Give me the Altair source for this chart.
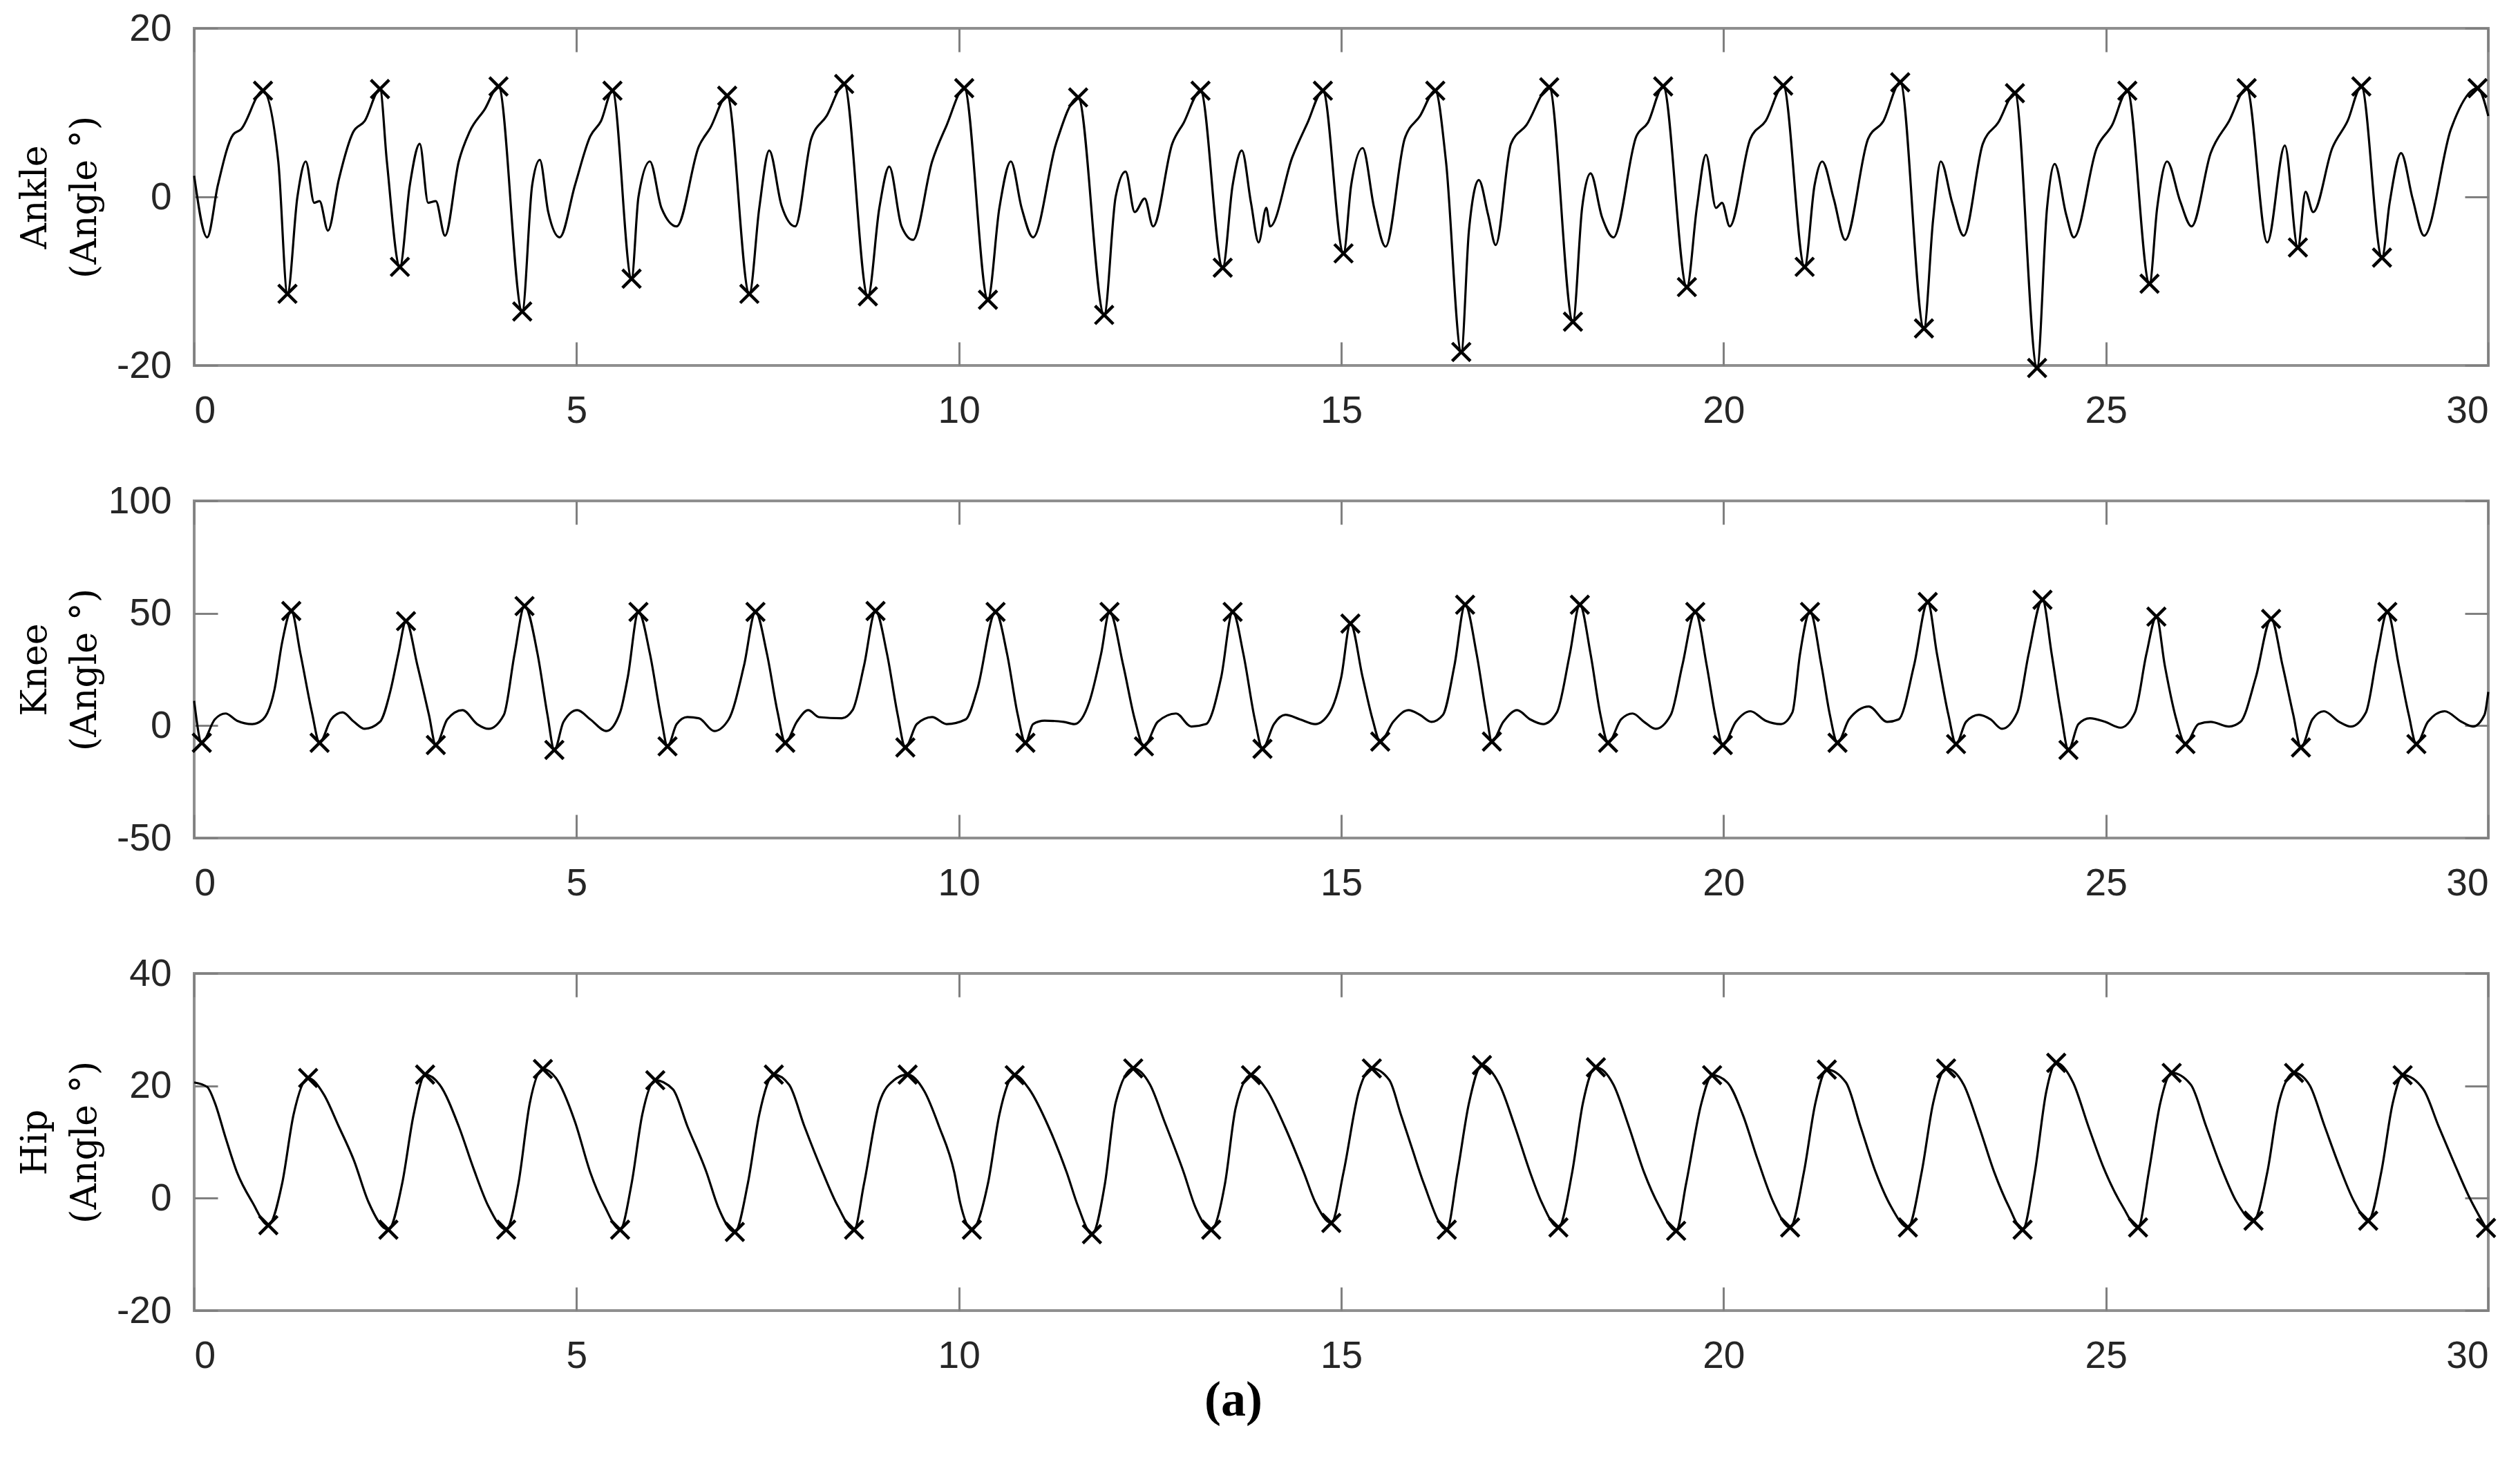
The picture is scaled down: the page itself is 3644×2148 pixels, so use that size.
import altair as alt
import pandas as pd

# ---------------- data ----------------
x_ticks = [0, 5, 10, 15, 20, 25, 30]

ankle_t = [0.00, 0.17, 0.31, 0.51, 0.61, 0.90, 1.10, 1.22, 1.35, 1.46, 1.57, 1.64, 1.75, 1.89, 2.08, 2.23, 2.43, 2.52, 2.69,
           2.82, 2.95, 3.06, 3.16, 3.28, 3.46, 3.60, 3.80, 3.98, 4.29, 4.42, 4.52, 4.63, 4.78, 4.98, 5.18, 5.32, 5.47,
           5.72, 5.81, 5.96, 6.11, 6.31, 6.60, 6.75, 6.97, 7.26, 7.39, 7.52, 7.68, 7.86, 8.07, 8.27, 8.50, 8.81, 8.96,
           9.09, 9.25, 9.40, 9.65, 9.84, 10.07, 10.38, 10.53, 10.68, 10.82, 10.97, 11.27, 11.56, 11.90, 12.05, 12.18,
           12.30, 12.43, 12.54, 12.79, 12.94, 13.16, 13.45, 13.58, 13.70, 13.82, 13.92, 14.02, 14.07, 14.36, 14.56,
           14.76, 15.03, 15.13, 15.28, 15.43, 15.58, 15.83, 16.03, 16.23, 16.37, 16.57, 16.67, 16.80, 16.92, 17.02,
           17.22, 17.42, 17.72, 18.03, 18.15, 18.26, 18.41, 18.56, 18.86, 19.01, 19.21, 19.52, 19.65, 19.77, 19.90,
           19.98, 20.08, 20.35, 20.55, 20.78, 21.06, 21.19, 21.29, 21.44, 21.59, 21.89, 22.09, 22.31, 22.62, 22.74,
           22.84, 22.99, 23.14, 23.39, 23.59, 23.81, 24.10, 24.23, 24.33, 24.48, 24.58, 24.88, 25.08, 25.28, 25.57,
           25.67, 25.80, 25.97, 26.12, 26.37, 26.61, 26.84, 27.11, 27.34, 27.51, 27.61, 27.71, 27.96, 28.16, 28.34,
           28.61, 28.71, 28.86, 29.01, 29.16, 29.51, 29.86, 30.00]
ankle_v = [2.5, -4.8, 1.4, 7.4, 8.0, 12.6, 4.2, -11.5, 0.0, 4.2, -0.7, -0.5, -4.0, 2.0, 7.7, 9.0, 12.8, 4.2, -8.3,
           1.4, 6.3, -0.7, -0.5, -4.6, 4.2, 7.7, 10.4, 13.1, -13.6, 1.4, 4.4, -1.8, -4.8, 1.4, 7.2, 9.0, 12.6,
           -9.7, 0.0, 4.2, -1.3, -3.5, 6.0, 8.2, 12.0, -11.5, -1.3, 5.5, -1.0, -3.5, 6.9, 9.6, 13.4, -11.8, -1.3,
           3.6, -3.5, -5.1, 4.2, 8.5, 12.9, -12.2, -1.3, 4.2, -1.3, -4.8, 6.3, 11.8, -14.0, 0.0, 3.0,
           -1.8, -0.2, -3.5, 6.3, 8.8, 12.6, -8.4, 1.4, 5.5, -0.7, -5.4, -1.3, -3.5, 4.7, 8.8,
           12.6, -6.7, 1.4, 5.8, -1.3, -5.9, 6.9, 9.6, 12.6, 4.2, -18.4, -4.0, 2.0, -2.1, -5.7,
           6.3, 8.5, 13.0, -14.8, -1.3, 2.8, -2.4, -4.8, 7.2, 8.8, 13.1, -10.7, -1.3, 5.0, -1.3,
           -0.7, -3.5, 6.9, 9.0, 13.2, -8.3, 1.4, 4.2, -0.2, -5.1, 6.9, 9.0, 13.6, -15.6, -2.7,
           4.2, -0.7, -4.6, 6.3, 8.8, 12.3, -20.3, -1.3, 3.9, -2.1, -4.8, 5.8, 8.5, 12.6, -10.3,
           -1.3, 4.2, -0.5, -3.5, 5.2, 9.0, 12.9, -5.4, 6.1, -6.0, 0.6, -1.8, 5.8, 9.0, 13.1,
           -7.2, -0.7, 5.2, -0.2, -4.6, 8.0, 12.9, 9.6]
ankle_mark_t = [0.90, 2.43, 3.98, 5.47, 6.97, 8.50, 10.07, 11.56, 13.16, 14.76, 16.23, 17.72, 19.21, 20.78, 22.31,
                23.81, 25.28, 26.84, 28.34, 29.86,
                1.22, 2.69, 4.29, 5.72, 7.26, 8.81, 10.38, 11.90, 13.45, 15.03, 16.57, 18.03, 19.52, 21.06, 22.62,
                24.10, 25.57, 27.51, 28.61]
ankle_mark_v = [12.6, 12.8, 13.1, 12.6, 12.0, 13.4, 12.9, 11.8, 12.6, 12.6, 12.6, 13.0, 13.1, 13.2, 13.6,
                12.3, 12.6, 12.9, 13.1, 12.9,
                -11.5, -8.3, -13.6, -9.7, -11.5, -11.8, -12.2, -14.0, -8.4, -6.7, -18.4, -14.8, -10.7, -8.3, -15.6,
                -20.3, -10.3, -6.0, -7.2]

knee_t = [0.00, 0.10, 0.27, 0.41, 0.56, 0.76, 0.90, 1.05, 1.15, 1.27, 1.39, 1.54, 1.64, 1.79, 1.94, 2.09, 2.23, 2.43,
          2.57, 2.67, 2.77, 2.92, 3.07, 3.16, 3.31, 3.51, 3.70, 3.85, 4.05, 4.19, 4.32, 4.49, 4.62, 4.71, 4.83, 5.01,
          5.18, 5.39, 5.57, 5.67, 5.81, 5.96, 6.11, 6.19, 6.31, 6.45, 6.60, 6.80, 6.99, 7.19, 7.34, 7.49, 7.63, 7.73,
          7.88, 8.03, 8.17, 8.47, 8.61, 8.76, 8.91, 9.06, 9.20, 9.30, 9.45, 9.65, 9.84, 10.09, 10.24, 10.48, 10.63,
          10.77, 10.87, 10.97, 11.12, 11.37, 11.51, 11.71, 11.86, 11.97, 12.15, 12.30, 12.42, 12.60, 12.84, 13.04,
          13.23, 13.43, 13.58, 13.72, 13.87, 13.97, 14.12, 14.27, 14.46, 14.66, 14.85, 15.00, 15.12, 15.28, 15.41,
          15.51, 15.68, 15.88, 16.03, 16.18, 16.33, 16.48, 16.62, 16.77, 16.90, 16.97, 17.12, 17.30, 17.47, 17.64,
          17.82, 17.99, 18.12, 18.26, 18.39, 18.49, 18.66, 18.81, 18.96, 19.11, 19.31, 19.46, 19.63, 19.78, 19.89,
          19.99, 20.16, 20.35, 20.55, 20.75, 20.90, 21.00, 21.13, 21.28, 21.39, 21.49, 21.64, 21.90, 22.14, 22.29,
          22.49, 22.67, 22.79, 22.94, 23.04, 23.17, 23.34, 23.49, 23.64, 23.84, 23.99, 24.17, 24.29, 24.41, 24.51,
          24.64, 24.79, 24.99, 25.19, 25.38, 25.53, 25.66, 25.77, 25.92, 26.04, 26.21, 26.37, 26.61, 26.76, 26.96,
          27.16, 27.31, 27.45, 27.55, 27.70, 27.85, 28.05, 28.20, 28.40, 28.55, 28.68, 28.83, 28.96, 29.06, 29.21,
          29.43, 29.65, 29.80, 29.95, 30.00]
knee_v = [11.0, -7.6, 2.8, 5.4, 2.2, 0.7, 2.8, 16.0, 37.0, 51.0, 32.0, 5.9, -7.6, 2.8, 5.9, 1.7, -1.4, 1.7,
          16.0, 32.0, 46.5, 26.7, 4.8, -8.6, 2.8, 6.9, 0.7, -1.4, 4.8, 32.0, 53.2, 32.0, 4.8, -10.8, 1.7, 6.9,
          2.8, -2.4, 5.9, 21.5, 50.6, 32.0, 2.8, -9.2, 0.7, 3.8, 3.3, -2.4, 2.8, 26.7, 50.6, 32.0, 5.9, -7.6,
          1.7, 6.9, 3.8, 3.3, 6.9, 26.7, 51.0, 32.0, 4.8, -9.7, 0.7, 3.8, 0.7, 2.8, 16.0, 50.6, 32.0,
          4.8, -7.6, 0.7, 2.2, 1.7, 0.7, 11.0, 32.0, 50.6, 26.7, 2.8, -9.2, 1.7, 5.4, -0.4,
          0.7, 21.5, 50.6, 32.0, 2.8, -10.3, 0.7, 4.8, 2.8, 0.7, 5.9, 21.5, 45.4, 21.5, 2.8,
          -7.1, 1.7, 6.9, 4.8, 1.7, 4.8, 26.7, 53.8, 32.0, 4.8, -7.1, 1.7, 6.9, 2.8, 0.7,
          5.9, 32.0, 53.8, 32.0, 4.8, -7.6, 2.8, 5.4, 1.7, -1.4, 4.8, 26.7, 50.6, 26.7, 4.8,
          -8.6, 1.7, 6.4, 2.2, 0.7, 5.9, 32.0, 50.6, 26.7, 4.8, -7.6, 2.8, 8.5, 1.7, 2.8,
          26.7, 55.0, 32.0, 4.8, -8.2, 1.7, 4.8, 2.8, -1.4, 5.9, 32.0, 56.0, 32.0, 5.9, -10.8,
          0.7, 3.3, 1.7, -0.9, 5.9, 32.0, 48.5, 26.7, 2.8, -8.2, 0.7, 1.7, -0.4, 1.7, 21.5,
          47.5, 26.7, 4.8, -9.7, 2.8, 6.4, 1.7, -0.4, 5.9, 32.0, 50.6, 26.7, 4.8, -8.2, 1.7,
          6.4, 1.7, -0.4, 4.8, 15.0]
knee_mark_t = [1.27, 2.77, 4.32, 5.81, 7.34, 8.91, 10.48, 11.97, 13.58, 15.12, 16.62, 18.12, 19.63, 21.13, 22.67,
               24.17, 25.66, 27.16, 28.68,
               0.10, 1.64, 3.16, 4.71, 6.19, 7.73, 9.30, 10.87, 12.42, 13.97, 15.51, 16.97, 18.49, 19.99, 21.49,
               23.04, 24.51, 26.04, 27.55, 29.06]
knee_mark_v = [51.0, 46.5, 53.2, 50.6, 50.6, 51.0, 50.6, 50.6, 50.6, 45.4, 53.8, 53.8, 50.6, 50.6, 55.0,
               56.0, 48.5, 47.5, 50.6,
               -7.6, -7.6, -8.6, -10.8, -9.2, -7.6, -9.7, -7.6, -9.2, -10.3, -7.1, -7.1, -7.6, -8.6, -7.6,
               -8.2, -10.8, -8.2, -9.7, -8.2]

hip_t = [0.00, 0.17, 0.27, 0.41, 0.56, 0.76, 0.97, 1.15, 1.30, 1.49, 1.69, 1.89, 2.09, 2.28, 2.54, 2.72, 2.87, 3.02,
         3.21, 3.46, 3.65, 3.85, 4.08, 4.24, 4.39, 4.56, 4.73, 4.98, 5.18, 5.37, 5.57, 5.72, 5.86, 6.03, 6.26, 6.45,
         6.70, 6.85, 7.07, 7.24, 7.39, 7.58, 7.78, 7.98, 8.22, 8.42, 8.63, 8.76, 8.96, 9.15, 9.33, 9.55, 9.74, 9.94,
         10.02, 10.17, 10.38, 10.53, 10.73, 10.92, 11.17, 11.41, 11.56, 11.74, 11.91, 12.05, 12.28, 12.50, 12.69,
         12.94, 13.09, 13.30, 13.48, 13.62, 13.82, 14.02, 14.26, 14.51, 14.66, 14.87, 15.03, 15.23, 15.40, 15.63,
         15.78, 15.93, 16.08, 16.38, 16.52, 16.67, 16.84, 17.07, 17.27, 17.47, 17.62, 17.84, 18.02, 18.16, 18.33,
         18.56, 18.76, 18.96, 19.16, 19.38, 19.51, 19.71, 19.85, 20.05, 20.25, 20.45, 20.65, 20.87, 21.05, 21.20,
         21.35, 21.60, 21.79, 21.99, 22.19, 22.41, 22.59, 22.74, 22.91, 23.14, 23.34, 23.54, 23.73, 23.91, 24.07,
         24.22, 24.35, 24.57, 24.77, 24.97, 25.22, 25.42, 25.56, 25.71, 25.86, 26.11, 26.31, 26.51, 26.71, 26.93,
         27.11, 27.26, 27.46, 27.66, 27.86, 28.06, 28.25, 28.43, 28.60, 28.75, 28.88, 29.15, 29.35, 29.54, 29.74,
         29.97]
hip_v = [20.6, 19.8, 17.0, 10.8, 4.6, -0.7, -4.8, 2.6, 14.9, 21.4, 18.6, 12.8, 6.7, -0.7, -5.6, 2.6, 14.9, 22.0,
         20.2, 12.8, 5.4, -1.5, -5.6, 2.6, 17.0, 23.0, 21.4, 13.6, 4.6, -1.5, -5.6, 2.6, 14.9, 21.0, 19.4, 12.8,
         4.6, -1.5, -6.0, 2.6, 14.9, 22.0, 20.2, 12.8, 4.6, -1.5, -5.6, 2.6, 17.0, 21.0, 22.0, 19.0, 12.8, 4.6,
         -1.0, -5.6, 2.6, 14.9, 21.9, 19.4, 12.8, 4.6, -1.5, -6.4, 2.6, 17.0, 23.1, 20.2, 13.6,
         4.6, -1.5, -5.6, 2.6, 16.1, 21.9, 19.4, 12.8, 4.6, -0.7, -4.4, 4.6, 19.0, 23.1, 21.0,
         14.9, 8.7, 2.6, -5.6, 4.6, 16.9, 23.7, 20.2, 12.8, 4.6, -0.7, -5.2, 4.6, 16.9, 23.3,
         20.2, 12.8, 4.6, -1.5, -5.8, 2.6, 16.9, 21.9, 20.6, 14.9, 6.7, -0.7, -5.2, 4.6, 16.9,
         22.9, 20.6, 12.8, 4.6, -1.5, -5.2, 4.6, 16.9, 23.1, 20.2, 12.8, 4.6, -1.5, -5.6, 4.6,
         19.0, 24.1, 20.6, 12.8, 5.4, -1.5, -5.2, 4.6, 16.9, 22.3, 20.2, 12.8, 5.4, -0.7, -4.0,
         4.6, 16.9, 22.3, 20.2, 12.8, 5.4, -0.7, -4.0, 4.6, 16.9, 21.9, 19.4, 12.8, 6.7, 0.5,
         -5.3]
hip_mark_t = [1.49, 3.02, 4.56, 6.03, 7.58, 9.33, 10.73, 12.28, 13.82, 15.40, 16.84, 18.33, 19.85, 21.35, 22.91,
              24.35, 25.86, 27.46, 28.88,
              0.97, 2.54, 4.08, 5.57, 7.07, 8.63, 10.17, 11.74, 13.30, 14.87, 16.38, 17.84, 19.38, 20.87, 22.41,
              23.91, 25.42, 26.93, 28.43, 29.97]
hip_mark_v = [21.4, 22.0, 23.0, 21.0, 22.0, 22.0, 21.9, 23.1, 21.9, 23.1, 23.7, 23.3, 21.9, 22.9, 23.1,
              24.1, 22.3, 22.3, 21.9,
              -4.8, -5.6, -5.6, -5.6, -6.0, -5.6, -5.6, -6.4, -5.6, -4.4, -5.6, -5.2, -5.8, -5.2, -5.2,
              -5.6, -5.2, -4.0, -4.0, -5.3]

panels = [
    ("Ankle", ankle_t, ankle_v, ankle_mark_t, ankle_mark_v, [-20, 20], [-20, 0, 20]),
    ("Knee", knee_t, knee_v, knee_mark_t, knee_mark_v, [-50, 100], [-50, 0, 50, 100]),
    ("Hip", hip_t, hip_v, hip_mark_t, hip_mark_v, [-20, 40], [-20, 0, 20, 40]),
]

# ---------------- styling ----------------
W, H = 3320, 488
TICK = 34
TICK_COLOR = "#808080"
LABEL_FONT = "Liberation Sans"
LABEL_SIZE = 55
LABEL_COLOR = "#262626"
TITLE_FONT = "DejaVu Serif"
X_MARK = "M-1,-1L1,1M-1,1L1,-1"


def tick_axis(orient, values):
    return alt.Axis(orient=orient, values=values, offset=-TICK, tickSize=TICK, ticks=True,
                    tickColor=TICK_COLOR, tickWidth=3, labels=False, domain=False, grid=False, title=None)


def make_panel(name, t, v, mt, mv, ydom, yticks):
    line_df = pd.DataFrame({"t": t, "v": v})
    mark_df = pd.DataFrame({"t": mt, "v": mv})
    xs = alt.Scale(domain=[0, 30], nice=False, zero=False)
    ys = alt.Scale(domain=ydom, nice=False, zero=False)

    line = alt.Chart(line_df).mark_line(color="black", strokeWidth=3.2, interpolate="monotone").encode(
        x=alt.X("t:Q", scale=xs, axis=alt.Axis(
            orient="bottom", values=x_ticks, ticks=False, domain=False, grid=False,
            labelFont=LABEL_FONT, labelFontSize=LABEL_SIZE, labelColor=LABEL_COLOR,
            labelPadding=39, labelExpr="'' + datum.value", title=None)),
        y=alt.Y("v:Q", scale=ys, axis=alt.Axis(
            orient="left", values=yticks, ticks=False, domain=False, grid=False,
            labelFont=LABEL_FONT, labelFontSize=LABEL_SIZE, labelColor=LABEL_COLOR,
            labelPadding=33, labelExpr="'' + datum.value",
            title=[name, "(Angle °)"], titleFont=TITLE_FONT, titleFontSize=52,
            titleFontWeight="normal", titleColor="black", titleAngle=270,
            titleAlign="center", titleBaseline="top", titleX=-256, titleY=H / 2,
            titleLineHeight=72)),
    )

    marks = alt.Chart(mark_df).mark_point(
        shape=X_MARK, size=700, filled=False, stroke="black", strokeWidth=4.5, opacity=1
    ).encode(
        x=alt.X("t:Q", scale=xs, axis=tick_axis("bottom", x_ticks)),
        y=alt.Y("v:Q", scale=ys, axis=tick_axis("left", yticks)),
    )

    ghost = alt.Chart(mark_df).mark_point(opacity=0).encode(
        x=alt.X("t:Q", scale=xs, axis=tick_axis("top", x_ticks)),
        y=alt.Y("v:Q", scale=ys, axis=tick_axis("right", yticks)),
    )

    return alt.layer(line, marks, ghost).resolve_axis(x="independent", y="independent").properties(
        width=W, height=H)


charts = [make_panel(*p) for p in panels]

chart = alt.vconcat(*charts, spacing=196, bounds="flush").properties(
    title=alt.TitleParams(text="(a)", orient="bottom", anchor="middle", font="Liberation Serif",
                          fontSize=72, fontWeight="bold", color="black", offset=0, dx=-37),
    padding={"left": 14, "top": 4, "right": 5, "bottom": 5},
    background="white",
).configure_view(stroke="#8f8f8f", strokeWidth=4)

chart.save("out.html", embed_options={"renderer": "svg", "actions": False})
